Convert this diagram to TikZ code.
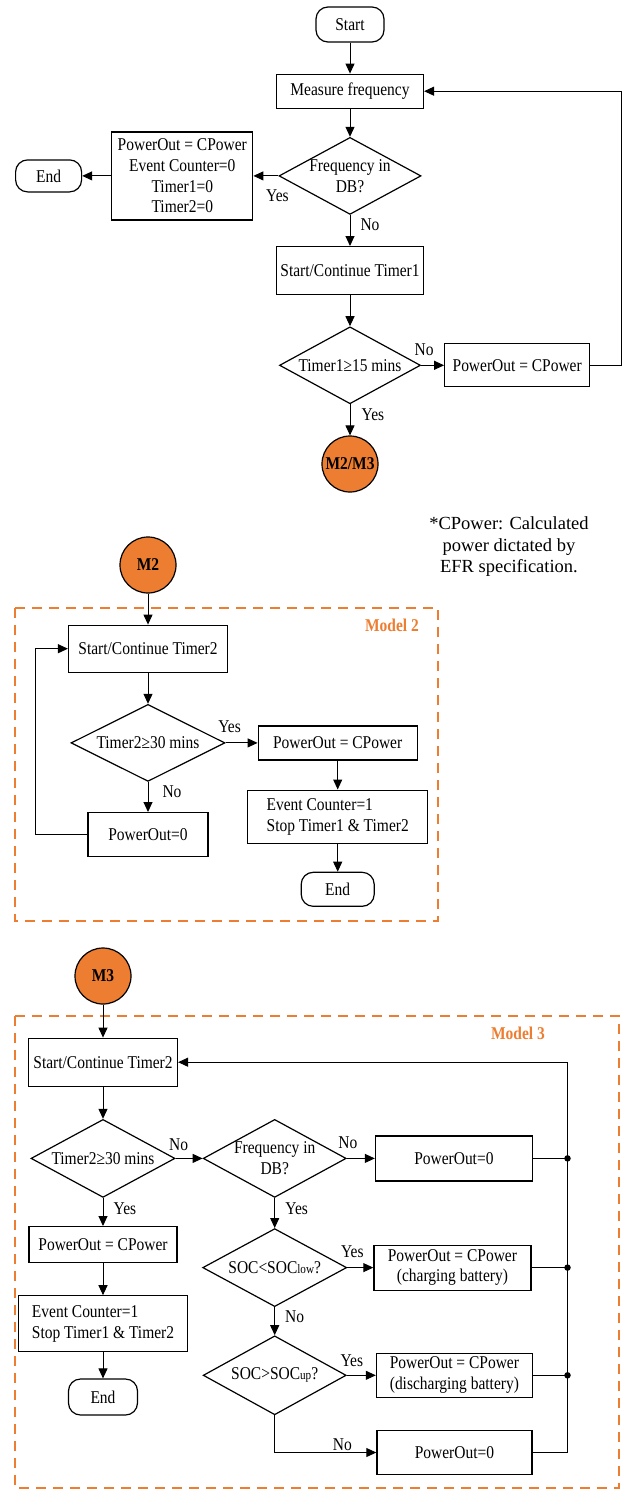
\documentclass[tikz,border=0pt]{standalone}
\usepackage{fontspec}
\setmainfont{Liberation Serif}[FakeStretch=0.86]
\newfontfamily\notefont{Liberation Serif}
\usetikzlibrary{arrows.meta,positioning,shapes.geometric}
\definecolor{modelorange}{HTML}{ED7D31}

\begin{document}
\begin{tikzpicture}[
            x=1pt, y=1pt,
            node distance=30pt,
            line width=1pt,
            font=\fontsize{18}{20.7}\selectfont,
            box/.style={draw, line width=1.2pt, inner sep=3pt, align=center},
            term/.style={draw, line width=1.2pt, rounded corners=12pt},
            decision/.style={diamond, draw, line width=1.2pt, aspect=2, inner sep=-8pt, align=center},
            model/.style={circle, draw, line width=1.2pt, fill=modelorange, minimum size=56pt, inner sep=0pt, font=\bfseries\fontsize{18}{20}\selectfont},
            modelframe/.style={draw=modelorange, line width=2.5pt, dash pattern=on 10pt off 7pt},
            modellabel/.style={text=modelorange, font=\bfseries\fontsize{18}{20}\selectfont},
            lbl/.style={inner sep=0pt},
            dot/.style={circle, fill, inner sep=0pt, minimum size=6.5pt},
            >={Triangle[length=10pt,width=9pt]}
        ]
        \useasboundingbox (0,0) rectangle (628,-1489);

        % Model 1
        \node[term, minimum width=68pt, minimum height=35pt] (start) at (350,-24.5) {Start};
        \node[box, minimum width=147pt, minimum height=34pt, below=31pt of start] (meas) {Measure frequency};
        \node[decision, minimum width=142pt, minimum height=77pt, below=28pt of meas] (indb) {Frequency in\\DB?};
        \node[box, minimum width=141pt, minimum height=88pt, left=25pt of indb] (reset) {PowerOut = CPower\\Event Counter=0\\Timer1=0\\Timer2=0};
        \node[term, minimum width=66pt, minimum height=32pt, left=29pt of reset] (endA) {End};
        \node[box, minimum width=147pt, minimum height=48pt, below=31pt of indb] (timerA) {Start/Continue Timer1};
        \node[decision, minimum width=141pt, minimum height=77pt, below=31pt of timerA] (chkA) {Timer1≥15 mins};
        \node[box, minimum width=145pt, minimum height=43pt, right=23pt of chkA] (cpowA) {PowerOut = CPower};
        \node[model, below=31pt of chkA] (mm) {M2/M3};

        \node[align=center, font=\notefont\fontsize{18.5}{21.5}\selectfont] (note) at (509,-547) {*CPower: Calculated\\power dictated by\\EFR specification.};

        % Model 2
        \node[model] (mtwo) at (148,-565) {M2};
        \node[box, minimum width=159pt, minimum height=47pt, below=31pt of mtwo] (timerB) {Start/Continue Timer2};
        \node[decision, minimum width=154pt, minimum height=77pt, below=31pt of timerB] (chkB) {Timer2≥30 mins};
        \node[box, minimum width=159pt, minimum height=34pt, right=32pt of chkB] (cpowB) {PowerOut = CPower};
        \node[box, minimum width=120pt, minimum height=44pt, below=30pt of chkB] (zeroB) {PowerOut=0};
        \node[box, minimum width=180pt, minimum height=53pt, below=29pt of cpowB, align=left] (stopB) {Event Counter=1\\Stop Timer1 \& Timer2};
        \node[term, minimum width=73pt, minimum height=34pt, below=28pt of stopB] (endB) {End};

        % Model 3
        \node[model] (mthree) at (103,-976) {M3};
        \node[box, minimum width=149pt, minimum height=48pt, below=33pt of mthree] (timerC) {Start/Continue Timer2};
        \node[decision, minimum width=144pt, minimum height=78pt, below=32pt of timerC] (chkC) {Timer2≥30 mins};
        \node[decision, minimum width=143pt, minimum height=78pt, right=27pt of chkC] (indbC) {Frequency in\\DB?};
        \node[box, minimum width=157pt, minimum height=45pt, right=28pt of indbC] (zeroC) {PowerOut=0};
        \node[box, minimum width=148pt, minimum height=36pt, below=28pt of chkC] (cpowC) {PowerOut = CPower};
        \node[box, minimum width=169pt, minimum height=56pt, below=32pt of cpowC, align=left] (stopC) {Event Counter=1\\Stop Timer1 \& Timer2};
        \node[term, minimum width=69pt, minimum height=36pt, below=26pt of stopC] (endC) {End};
        \node[decision, minimum width=144pt, minimum height=78pt, below=30pt of indbC] (socLow) {SOC<SOC{\fontsize{13}{13}\selectfont low}?};
        \node[box, minimum width=157pt, minimum height=45pt, right=26pt of socLow] (charge) {PowerOut = CPower\\(charging battery)};
        \node[decision, minimum width=143pt, minimum height=79pt, below=28pt of socLow] (socUp) {SOC>SOC{\fontsize{13}{13}\selectfont up}?};
        \node[box, minimum width=156pt, minimum height=44pt, right=29pt of socUp] (discharge) {PowerOut = CPower\\(discharging battery)};
        \node[box, minimum width=155pt, minimum height=44pt, below=32pt of discharge] (zeroD) {PowerOut=0};
        \coordinate[right=35pt of zeroD] (bus);

        % dashed model frames
        \draw[modelframe] (15,-608) rectangle (438,-921);
        \draw[modelframe] (15,-1016) rectangle (619,-1488);
        \node[modellabel] (labB) at (392,-625) {Model 2};
        \node[modellabel] (labC) at (518,-1033) {Model 3};

        % Model 1 connectors
        \draw[->] (start) -- (meas);
        \draw[->] (meas) -- (indb);
        \draw[->] (indb) -- node[lbl, pos=0, xshift=-1pt, yshift=-20pt] {Yes} (reset);
        \draw[->] (reset) -- (endA);
        \draw[->] (indb) -- node[lbl, pos=0, xshift=20pt, yshift=-10pt] {No} (timerA);
        \draw[->] (timerA) -- (chkA);
        \draw[->] (chkA) -- node[lbl, pos=0, xshift=3pt, yshift=16pt] {No} (cpowA);
        \draw[->] (chkA) -- node[lbl, pos=0, xshift=23pt, yshift=-10pt] {Yes} (mm);
        \draw[->] (cpowA.east) -- ++(31,0) |- (meas.east);

        % Model 2 connectors
        \draw[->] (mtwo) -- (timerB);
        \draw[->] (timerB) -- (chkB);
        \draw[->] (chkB) -- node[lbl, pos=0, xshift=4pt, yshift=16pt] {Yes} (cpowB);
        \draw[->] (chkB) -- node[lbl, pos=0, xshift=24pt, yshift=-10pt] {No} (zeroB);
        \draw[->] (zeroB.west) -- ++(-52,0) |- (timerB.west);
        \draw[->] (cpowB) -- (stopB);
        \draw[->] (stopB) -- (endB);

        % Model 3 connectors
        \draw[->] (mthree) -- (timerC);
        \draw[->] (timerC) -- (chkC);
        \draw[->] (chkC) -- node[lbl, pos=0, xshift=3pt, yshift=14pt] {No} (indbC);
        \draw[->] (chkC) -- node[lbl, pos=0, xshift=22pt, yshift=-11pt] {Yes} (cpowC);
        \draw[->] (cpowC) -- (stopC);
        \draw[->] (stopC) -- (endC);
        \draw[->] (indbC) -- node[lbl, pos=0, xshift=1pt, yshift=16pt] {No} (zeroC);
        \draw[->] (indbC) -- node[lbl, pos=0, xshift=22pt, yshift=-11pt] {Yes} (socLow);
        \draw[->] (socLow) -- node[lbl, pos=0, xshift=5pt, yshift=16pt] {Yes} (charge);
        \draw[->] (socLow) -- node[lbl, pos=0, xshift=20pt, yshift=-9pt] {No} (socUp);
        \draw[->] (socUp) -- node[lbl, pos=0, xshift=5pt, yshift=15pt] {Yes} (discharge);
        \draw[->] (socUp.south) |- node[lbl, pos=1, xshift=-34pt, yshift=8pt] {No} (zeroD.west);
        \draw[->] (zeroD.east) -- (bus) |- (timerC.east);
        \draw (zeroC.east) -- (zeroC.east -| bus) node[dot] (jA) {};
        \draw (charge.east) -- (charge.east -| bus) node[dot] (jB) {};
        \draw (discharge.east) -- (discharge.east -| bus) node[dot] (jC) {};
    \end{tikzpicture}
\end{document}
